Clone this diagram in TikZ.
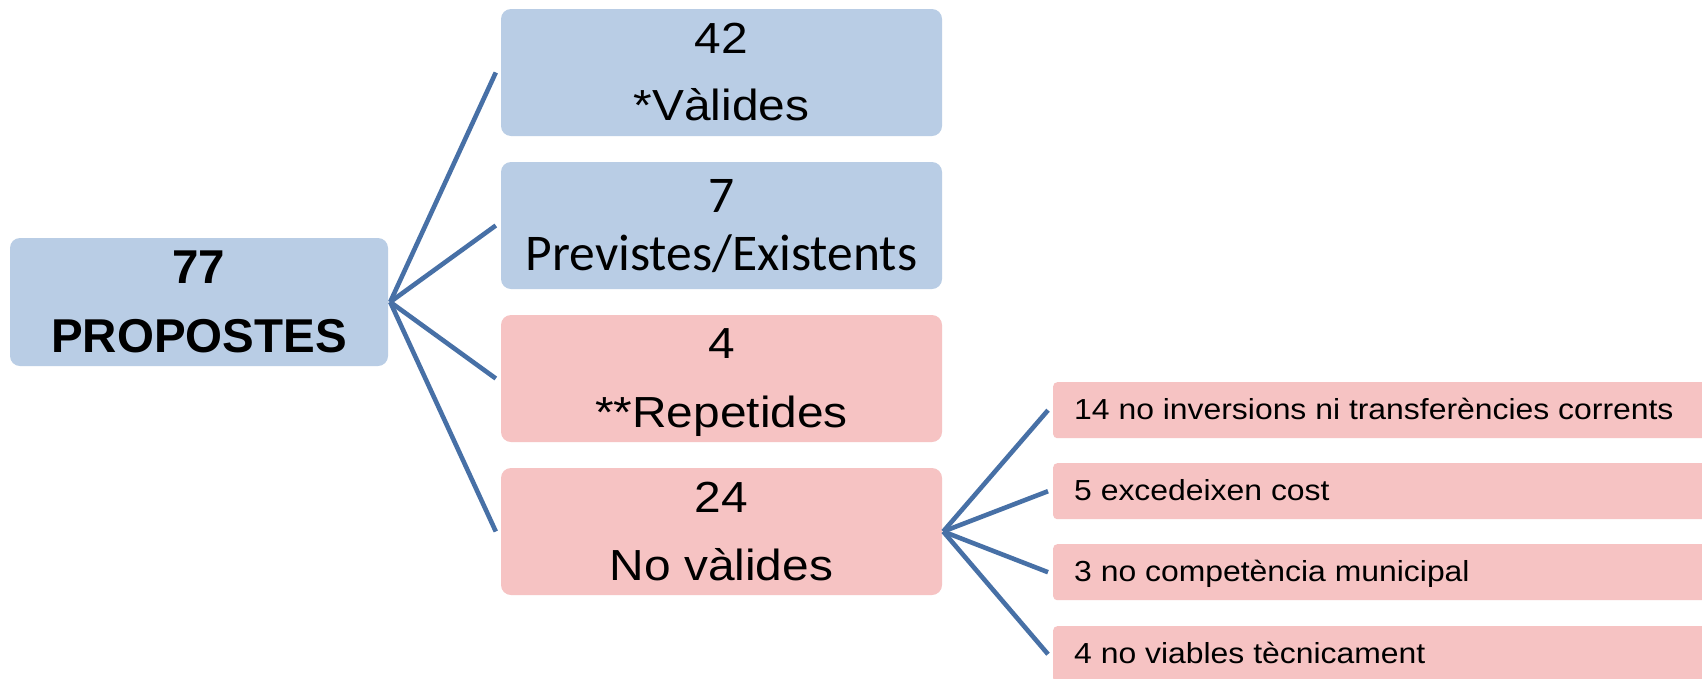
\documentclass[tikz,border=0pt]{standalone}
\usepackage{fontspec}
\setmainfont{Liberation Sans}
\newfontfamily\arialw[FakeStretch=1.1]{Liberation Sans}
\newfontfamily\calib{Carlito}
\usetikzlibrary{calc}
\definecolor{bluefill}{HTML}{B9CDE5}
\definecolor{pinkfill}{HTML}{F6C3C3}
\definecolor{linkblue}{HTML}{4770A6}
\begin{document}
\begin{tikzpicture}[x=1pt,y=-1pt,
  leftbox/.style={rectangle, rounded corners=10pt, inner sep=0pt, minimum width=378pt, minimum height=128pt},
  bigbox/.style={rectangle, rounded corners=10pt, inner sep=0pt, minimum width=441pt, minimum height=127pt},
  subbox/.style={rectangle, rounded corners=4pt, inner sep=0pt, minimum width=700pt, minimum height=56pt, anchor=north west},
  boldtxt/.style={anchor=base, inner sep=0pt, font=\fontsize{47.5}{47.5}\selectfont\bfseries},
  midtxt/.style={anchor=base, inner sep=0pt, font=\arialw\fontsize{43.5}{43.5}\selectfont},
  caltxt/.style={anchor=base, inner sep=0pt, font=\calib\fontsize{51.5}{51.5}\selectfont},
  subtxt/.style={anchor=base west, inner sep=0pt, font=\arialw\fontsize{29}{29}\selectfont},
  link/.style={draw=linkblue, line width=4.6pt}]
\clip (0,0) rectangle (1702,678);
\fill[white] (0,0) rectangle (1702,678);

% root
\node[leftbox, fill=bluefill] (root) at (199,302) {};
\node[boldtxt] (roota) at ($(root.center)+(0,-19)$) {77};
\node[boldtxt] (rootb) at ($(root.center)+(0,50)$) {PROPOSTES};

% middle boxes
\node[bigbox, fill=bluefill] (m1) at (721.5,72.5) {};
\node[bigbox, fill=bluefill] (m2) at (721.5,225.5) {};
\node[bigbox, fill=pinkfill] (m3) at (721.5,378.5) {};
\node[bigbox, fill=pinkfill] (m4) at (721.5,531.5) {};

\node[midtxt] (m1a) at ($(m1.center)+(0,-19)$) {42};
\node[midtxt] (m1b) at ($(m1.center)+(0,48)$) {*Vàlides};
\node[caltxt] (m2a) at ($(m2.center)+(0,-13.5)$) {7};
\node[caltxt] (m2b) at ($(m2.center)+(0,44.5)$) {Previstes/Existents};
\node[midtxt] (m3a) at ($(m3.center)+(0,-20)$) {4};
\node[midtxt] (m3b) at ($(m3.center)+(0,49)$) {**Repetides};
\node[midtxt] (m4a) at ($(m4.center)+(0,-19)$) {24};
\node[midtxt] (m4b) at ($(m4.center)+(0,49)$) {No vàlides};

% sub boxes
\node[subbox, fill=pinkfill] (s1) at (1053,382) {};
\node[subbox, fill=pinkfill] (s2) at (1053,463) {};
\node[subbox, fill=pinkfill] (s3) at (1053,544) {};
\node[subbox, fill=pinkfill] (s4) at (1053,626) {};

\node[subtxt] (s1t) at ($(s1.west)+(21,9)$) {14 no inversions ni transferències corrents};
\node[subtxt] (s2t) at ($(s2.west)+(21,9)$) {5 excedeixen cost};
\node[subtxt] (s3t) at ($(s3.west)+(21,9)$) {3 no competència municipal};
\node[subtxt] (s4t) at ($(s4.west)+(21,9)$) {4 no viables tècnicament};

% connectors
\coordinate (j0) at ($(root.east)+(2,0)$);
\foreach \m in {m1,m2,m3,m4} \draw[link] (j0) -- ([xshift=-5pt]\m.west);
\coordinate (j1) at ($(m4.east)+(1,0)$);
\foreach \s in {s1,s2,s3,s4} \draw[link] (j1) -- ([xshift=-5pt]\s.west);
\end{tikzpicture}
\end{document}
